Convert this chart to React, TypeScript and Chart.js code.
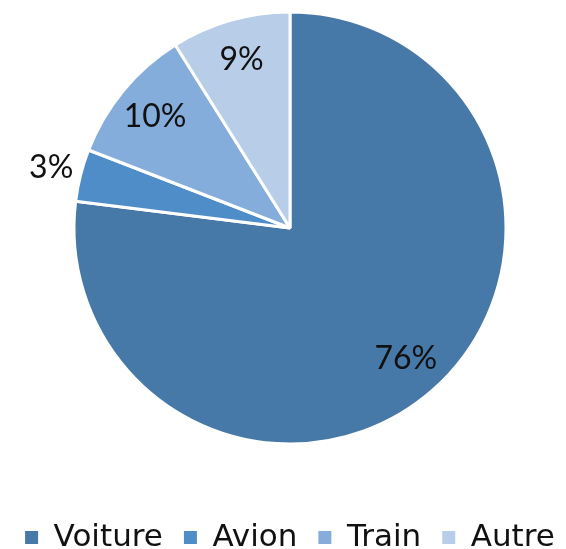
import React, { useEffect, useRef } from "react";
import { Chart, registerables } from "chart.js";

Chart.register(...registerables);

const categories = ["Voiture", "Avion", "Train", "Autre"];
const shares = [76.9, 3.9, 10.2, 8.9];
const shareLabels = ["76%", "3%", "10%", "9%"];
const colors = ["#4779A8", "#4F8DC8", "#85ADDB", "#B8CDE8"];

const FONT = "Lato, 'DejaVu Sans', sans-serif";
const LEGEND_FONT = "'DejaVu Sans', sans-serif";

const labelPlugin = {
  id: "sliceLabels",
  afterDatasetsDraw(chart: any) {
    const ctx = chart.ctx;
    const meta = chart.getDatasetMeta(0);
    const total = shares.reduce((a, b) => a + b, 0);
    ctx.save();
    ctx.font = `32px ${FONT}`;
    ctx.fillStyle = "#111";
    ctx.textAlign = "center";
    ctx.textBaseline = "middle";
    meta.data.forEach((arc: any, i: number) => {
      const p = arc.getProps(["x", "y", "startAngle", "endAngle", "outerRadius"], true);
      const mid = (p.startAngle + p.endAngle) / 2;
      const outside = shares[i] / total < 0.05;
      const r = p.outerRadius * (outside ? 1.14 : 0.81);
      ctx.fillText(shareLabels[i], p.x + Math.cos(mid) * r, p.y + Math.sin(mid) * r);
    });
    ctx.restore();
  },
};

export default function App() {
  const ref = useRef<HTMLCanvasElement | null>(null);
  useEffect(() => {
    if (!ref.current) return;
    const chart = new Chart(ref.current, {
      type: "pie",
      data: {
        labels: categories,
        datasets: [
          {
            data: shares,
            backgroundColor: colors,
            borderColor: "#ffffff",
            borderWidth: 3,
            radius: 216,
          } as any,
        ],
      },
      options: {
        responsive: false,
        animation: false,
        layout: { padding: 0 },
        plugins: {
          tooltip: { enabled: false },
          legend: {
            position: "bottom",
            labels: {
              font: { family: LEGEND_FONT, size: 31 },
              color: "#111",
              boxWidth: 13,
              boxHeight: 13,
              padding: 21,
              generateLabels: (chart: any) => {
                const base = (Chart as any).overrides.pie.plugins.legend.labels.generateLabels(chart);
                return base.map((l: any) => ({ ...l, lineWidth: 0, strokeStyle: "transparent" }));
              },
            },
          },
        },
      },
      plugins: [labelPlugin],
    });
    return () => chart.destroy();
  }, []);
  return (
    <div
      style={{
        position: "fixed",
        left: 0,
        top: 0,
        width: 566,
        height: 549,
        overflow: "hidden",
        background: "#fff",
      }}
    >
      <canvas
        ref={ref}
        width={580}
        height={608}
        style={{ position: "absolute", left: 0, top: -45, width: 580, height: 608 }}
      />
    </div>
  );
}
